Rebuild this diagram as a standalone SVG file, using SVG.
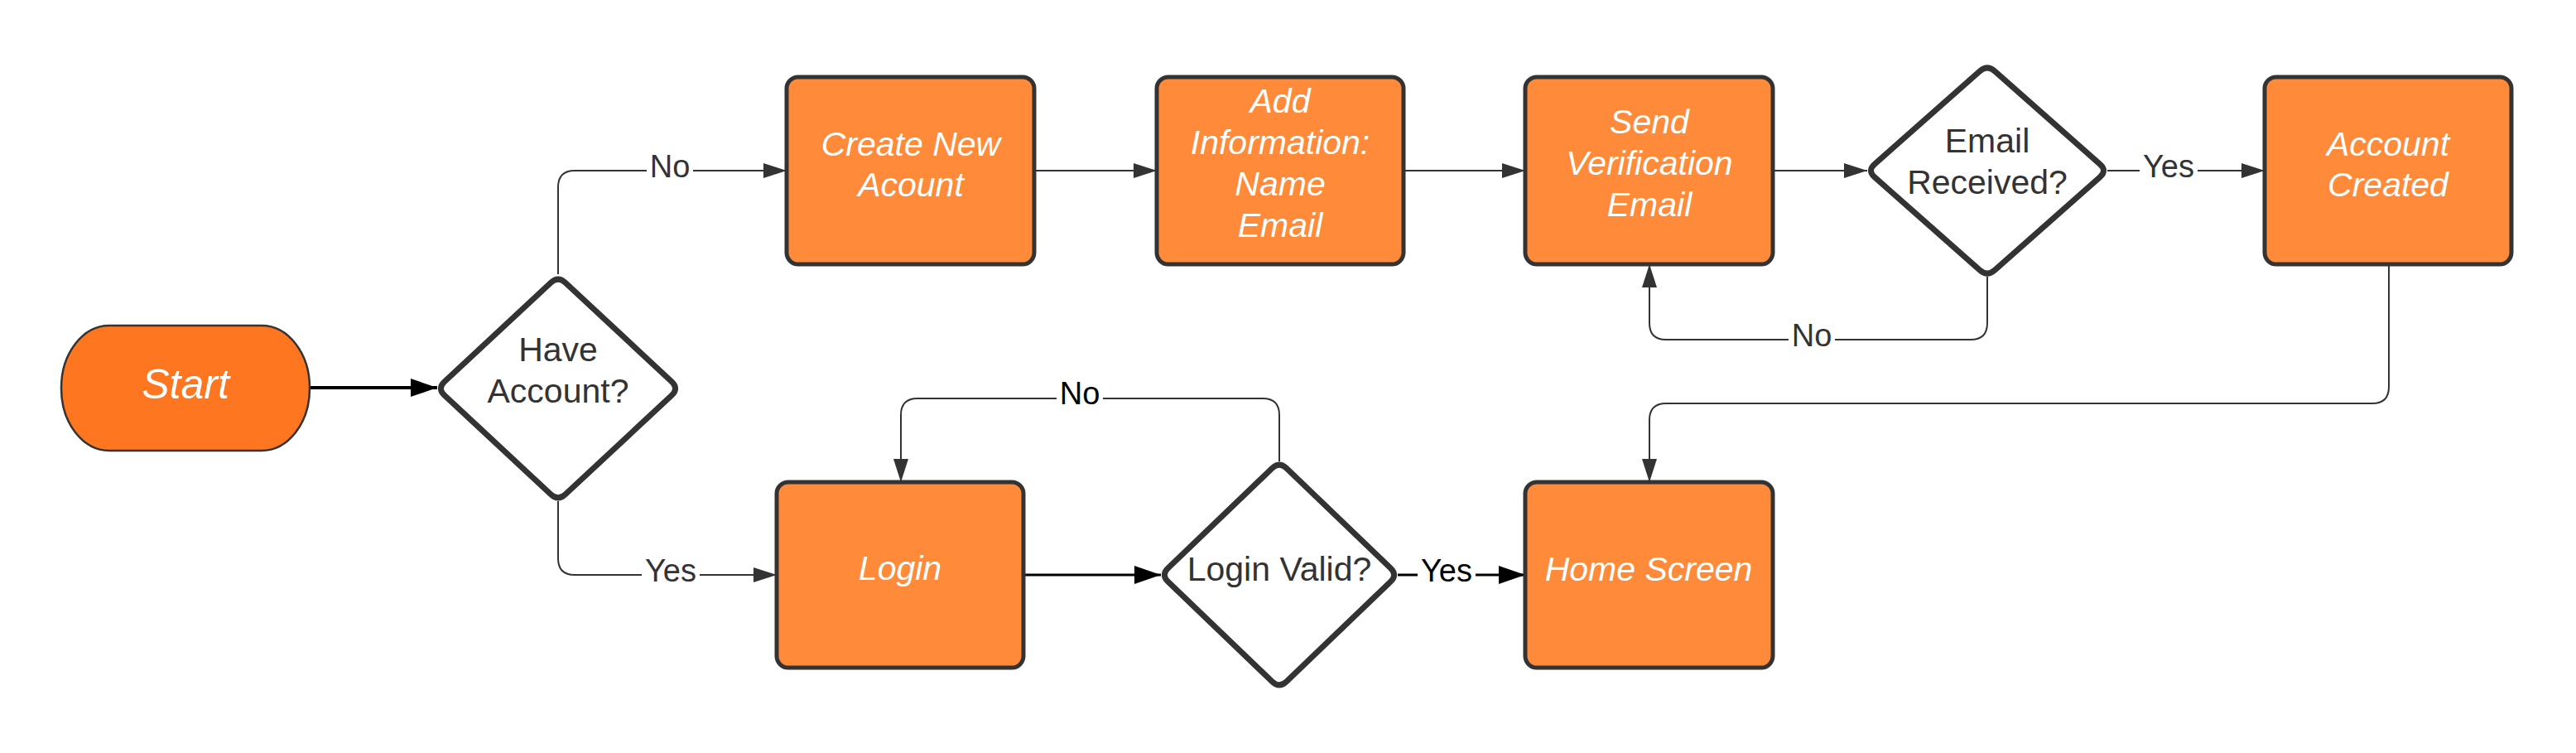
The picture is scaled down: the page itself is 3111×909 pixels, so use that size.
<svg xmlns="http://www.w3.org/2000/svg" width="3111" height="909" viewBox="0 0 3111 909">
<style>
.box{fill:#FF8B3A;stroke:#333333;stroke-width:5}
.dia{fill:#FFFFFF;stroke:#333333;stroke-width:7;stroke-linejoin:round}
.bt{font-family:"Liberation Sans",Arial,sans-serif;font-size:41px;font-style:italic;fill:#FFFFFF;text-anchor:middle}
.dt{font-family:"Liberation Sans",Arial,sans-serif;font-size:41px;fill:#333333;text-anchor:middle}
.lbl{font-family:"Liberation Sans",Arial,sans-serif;font-size:38px;fill:#333333;text-anchor:middle}
.thin{fill:none;stroke:#333333;stroke-width:2}
.thick{fill:none;stroke:#000000;stroke-width:3}
.lbg{fill:#FFFFFF}
</style>
<defs>
<marker id="ah" markerUnits="userSpaceOnUse" markerWidth="30" markerHeight="20" refX="28" refY="9" orient="auto">
<path d="M0,0 L28,9 L0,18 Z" fill="#333333"/>
</marker>
<marker id="ahk" markerUnits="userSpaceOnUse" markerWidth="34" markerHeight="24" refX="32" refY="11" orient="auto">
<path d="M0,0 L32,11 L0,22 Z" fill="#000000"/>
</marker>
</defs>
<rect width="3111" height="909" fill="#FFFFFF"/>
<g id="connectors">
<path class="thick" d="M374,468 H528" marker-end="url(#ahk)" style="stroke-width:4"/>
<path class="thin" d="M674,331 V226 Q674,206 694,206 H950" marker-end="url(#ah)"/>
<path class="thin" d="M1249,206 H1397" marker-end="url(#ah)"/>
<path class="thin" d="M1695,206 H1842" marker-end="url(#ah)"/>
<path class="thin" d="M2141,206 H2255" marker-end="url(#ah)"/>
<path class="thin" d="M2545,206 H2735" marker-end="url(#ah)"/>
<path class="thin" d="M2400,334 V390 Q2400,410 2380,410 H2012 Q1992,410 1992,390 V319" marker-end="url(#ah)"/>
<path class="thin" d="M2885,319 V467 Q2885,487 2865,487 H2012 Q1992,487 1992,507 V582" marker-end="url(#ah)"/>
<path class="thin" d="M674,605 V674 Q674,694 694,694 H938" marker-end="url(#ah)"/>
<path class="thick" d="M1236,694 H1402" marker-end="url(#ahk)"/>
<path class="thick" d="M1688,694 H1842" marker-end="url(#ahk)"/>
<path class="thin" d="M1545,557 V501 Q1545,481 1525,481 H1108 Q1088,481 1088,501 V582" marker-end="url(#ah)"/>
<rect class="lbg" x="781" y="186" width="56" height="34"/>
<text class="lbl" x="809" y="214">No</text>
<rect class="lbg" x="2584" y="186" width="70" height="34"/>
<text class="lbl" x="2619" y="214">Yes</text>
<rect class="lbg" x="2160" y="390" width="56" height="34"/>
<text class="lbl" x="2188" y="418">No</text>
<rect class="lbg" x="775" y="674" width="70" height="34"/>
<text class="lbl" x="810" y="702">Yes</text>
<rect class="lbg" x="1276" y="460" width="56" height="34"/>
<text class="lbl" x="1304" y="488" style="fill:#000000">No</text>
<rect class="lbg" x="1712" y="674" width="70" height="34"/>
<text class="lbl" x="1747" y="702" style="fill:#000000">Yes</text>
</g>
<g id="start">
<rect x="74" y="393" width="300" height="151" rx="58" ry="75" fill="#FE7720" stroke="#333333" stroke-width="2.5"/>
<text class="bt" x="224" y="481" style="font-size:50px">Start</text>
</g>
<g id="have-account">
<path class="dia" d="M665.2,341.2 Q674,333 682.8,341.2 L811.2,460.8 Q820,469 811.2,477.2 L682.8,596.8 Q674,605 665.2,596.8 L536.8,477.2 Q528,469 536.8,460.8 Z"/>
<text class="dt" x="674" y="436">Have</text>
<text class="dt" x="674" y="486">Account?</text>
</g>
<g id="create-account">
<rect class="box" x="950" y="93" width="299" height="226" rx="14"/>
<text class="bt" x="1100" y="188">Create New</text>
<text class="bt" x="1100" y="237">Acount</text>
</g>
<g id="add-information">
<rect class="box" x="1397" y="93" width="298" height="226" rx="14"/>
<text class="bt" x="1546" y="136">Add</text>
<text class="bt" x="1546" y="186">Information:</text>
<text class="bt" x="1546" y="236">Name</text>
<text class="bt" x="1546" y="286">Email</text>
</g>
<g id="send-verification">
<rect class="box" x="1842" y="93" width="299" height="226" rx="14"/>
<text class="bt" x="1992" y="161">Send</text>
<text class="bt" x="1992" y="211">Verification</text>
<text class="bt" x="1992" y="261">Email</text>
</g>
<g id="email-received">
<path class="dia" d="M2391,85.9 Q2400,78 2409,85.9 L2536,198.1 Q2545,206 2536,213.9 L2409,326.1 Q2400,334 2391,326.1 L2264,213.9 Q2255,206 2264,198.1 Z"/>
<text class="dt" x="2400" y="184">Email</text>
<text class="dt" x="2400" y="234">Received?</text>
</g>
<g id="account-created">
<rect class="box" x="2735" y="93" width="298" height="226" rx="14"/>
<text class="bt" x="2884" y="188">Account</text>
<text class="bt" x="2884" y="237">Created</text>
</g>
<g id="login">
<rect class="box" x="938" y="582" width="298" height="224" rx="14"/>
<text class="bt" x="1087" y="700">Login</text>
</g>
<g id="login-valid">
<path class="dia" d="M1536.3,565.3 Q1545,557 1553.7,565.3 L1679.3,685.7 Q1688,694 1679.3,702.3 L1553.7,822.7 Q1545,831 1536.3,822.7 L1410.7,702.3 Q1402,694 1410.7,685.7 Z"/>
<text class="dt" x="1545" y="701">Login Valid?</text>
</g>
<g id="home-screen">
<rect class="box" x="1842" y="582" width="299" height="224" rx="14"/>
<text class="bt" x="1991" y="701">Home Screen</text>
</g>
</svg>
